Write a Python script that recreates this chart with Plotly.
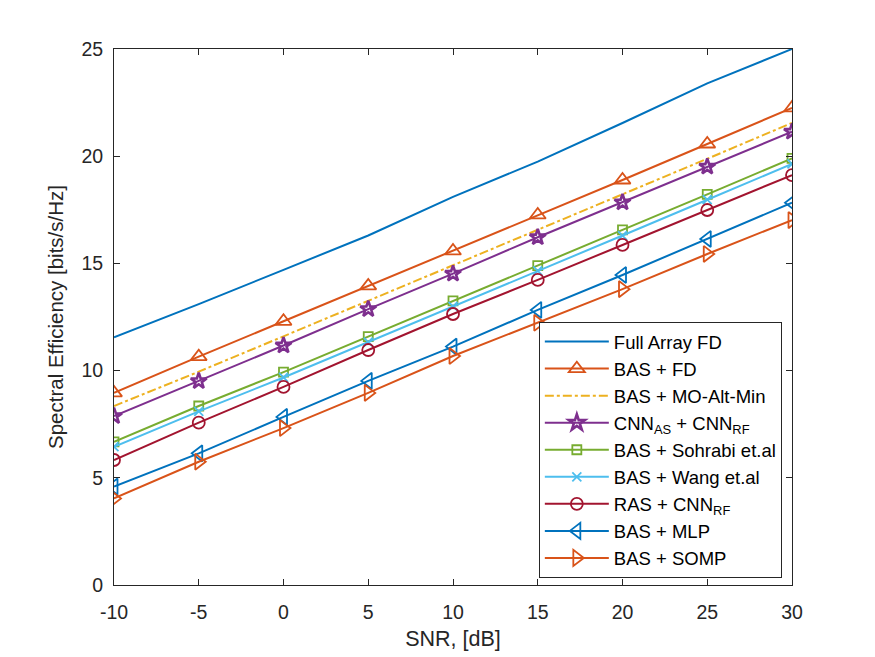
import plotly.graph_objects as go

snr = [-10, -5, 0, 5, 10, 15, 20, 25, 30]
x_ticks = [-10, -5, 0, 5, 10, 15, 20, 25, 30]
x_ticklabels = ["-10", "-5", "0", "5", "10", "15", "20", "25", "30"]
y_ticks = [0, 5, 10, 15, 20, 25]

full_array_fd = [11.55, 13.1, 14.7, 16.3, 18.1, 19.75, 21.55, 23.4, 25.0]
bas_fd = [8.96, 10.65, 12.3, 13.95, 15.58, 17.26, 18.89, 20.57, 22.25]
bas_mo_altmin = [8.35, 9.95, 11.6, 13.25, 14.9, 16.55, 18.2, 19.88, 21.55]
cnn_as_rf = [7.88, 9.51, 11.17, 12.87, 14.52, 16.22, 17.85, 19.51, 21.14]
bas_sohrabi = [6.68, 8.35, 9.93, 11.58, 13.25, 14.9, 16.56, 18.22, 19.9]
bas_wang = [6.45, 8.1, 9.68, 11.33, 13.0, 14.65, 16.3, 17.97, 19.64]
ras_cnn_rf = [5.83, 7.57, 9.24, 10.96, 12.64, 14.23, 15.86, 17.49, 19.12]
bas_mlp = [4.59, 6.14, 7.84, 9.52, 11.12, 12.83, 14.46, 16.14, 17.83]
bas_somp = [4.04, 5.75, 7.32, 8.96, 10.68, 12.23, 13.8, 15.44, 17.02]

names = ["Full Array FD", "BAS + FD", "BAS + MO-Alt-Min",
         "CNN<sub>AS</sub> + CNN<sub>RF</sub>", "BAS + Sohrabi et.al",
         "BAS + Wang et.al", "RAS + CNN<sub>RF</sub>", "BAS + MLP", "BAS + SOMP"]
series = [full_array_fd, bas_fd, bas_mo_altmin, cnn_as_rf, bas_sohrabi,
          bas_wang, ras_cnn_rf, bas_mlp, bas_somp]
colors = ["#0072BD", "#D95319", "#EDB120", "#7E2F8E", "#77AC30",
          "#4DBEEE", "#A2142F", "#0072BD", "#D95319"]
symbols = [None, "triangle-up-open", None, "star-open", "square-open",
           "x-thin-open", "circle-open", "triangle-left-open", "triangle-right-open"]
sizes = [0, 14, 0, 12, 9, 9, 12, 14, 14]
mwidths = [0, 1.8, 0, 2.6, 1.8, 1.8, 1.8, 1.8, 1.8]
dashes = ["solid", "solid", "dashdot", "solid", "solid", "solid", "solid", "solid", "solid"]

fig = go.Figure()
for nm, ys, c, s, sz, mw, d in zip(names, series, colors, symbols, sizes, mwidths, dashes):
    if s is None:
        fig.add_trace(go.Scatter(x=snr, y=ys, name=nm, mode="lines",
                                 line=dict(color=c, width=2, dash=d)))
    else:
        fig.add_trace(go.Scatter(x=snr, y=ys, name=nm, mode="lines+markers",
                                 line=dict(color=c, width=2, dash=d),
                                 marker=dict(symbol=s, size=sz, color=c,
                                             line=dict(color=c, width=mw))))

axis_common = dict(showgrid=False, zeroline=False, showline=True, linecolor="#262626",
                   linewidth=1, mirror="ticks", ticks="inside", ticklen=6,
                   tickcolor="#262626", tickfont=dict(size=19.5, color="#262626"))

fig.update_layout(
    width=875, height=657,
    margin=dict(l=114, r=83, t=49, b=72),
    paper_bgcolor="white", plot_bgcolor="white",
    font=dict(family="Liberation Sans, Arial, sans-serif", color="#262626"),
    xaxis=dict(range=[-10, 30], tickvals=x_ticks, ticktext=x_ticklabels,
               ticklabelstandoff=10,
               title=dict(text="SNR, [dB]", font=dict(size=21.5), standoff=8), **axis_common),
    yaxis=dict(range=[0, 25], tickvals=y_ticks, ticklabelstandoff=6,
               title=dict(text="Spectral Efficiency [bits/s/Hz]", font=dict(size=20.5), standoff=12),
               **axis_common),
    legend=dict(x=0.985, y=0.013, xanchor="right", yanchor="bottom",
                bgcolor="white", bordercolor="#262626", borderwidth=1,
                font=dict(size=18.5, color="#000000"), itemwidth=64,
                tracegroupgap=0),
    showlegend=True,
)

fig.write_html("out.html")
